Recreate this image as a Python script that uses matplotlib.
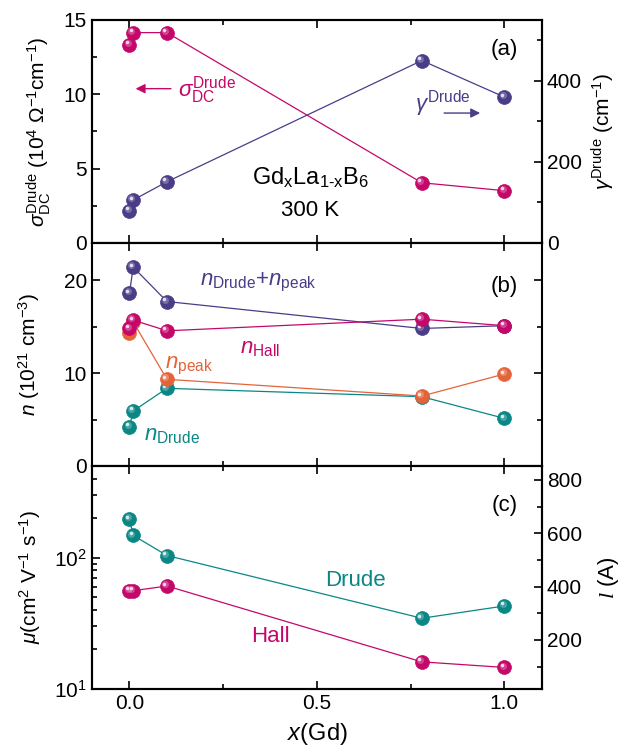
import numpy as np
import matplotlib
matplotlib.use('Agg')
import matplotlib.pyplot as plt
from matplotlib.transforms import offset_copy
from matplotlib.ticker import MultipleLocator, LogLocator, NullFormatter

plt.rcParams['font.family'] = ['Liberation Sans', 'DejaVu Sans']
plt.rcParams['mathtext.fontset'] = 'custom'
plt.rcParams['mathtext.rm'] = 'Liberation Sans'
plt.rcParams['mathtext.it'] = 'Liberation Sans:italic'
plt.rcParams['mathtext.sf'] = 'Liberation Sans'
plt.rcParams['mathtext.cal'] = 'Liberation Serif:italic'
plt.rcParams['axes.linewidth'] = 1.5

# x (Gd content)
x = [0.0, 0.01, 0.1, 0.78, 1.0]

# panel (a)
sigma_dc = [13.35, 14.15, 14.15, 4.05, 3.52]     # 10^4 Ohm^-1 cm^-1
gamma_drude = [80, 106, 151, 450, 360]            # cm^-1

# panel (b), 10^21 cm^-3
n_sum = [18.6, 21.4, 17.7, 14.8, 15.1]
n_hall = [14.8, 15.7, 14.55, 15.8, 15.1]
n_peak = [14.35, 15.5, 9.33, 7.53, 9.9]
n_drude = [4.23, 5.92, 8.36, 7.46, 5.13]

# panel (c), cm^2 V^-1 s^-1
mu_drude = [197, 148, 104, 34.6, 42.9]
mu_hall = [56.1, 56.1, 60.9, 16.1, 14.6]

magenta = '#C4086A'
purple = '#4B3C88'
teal = '#0A8785'
orange = '#E4643A'

fig, axes = plt.subplots(3, 1, sharex=True, figsize=(6.3, 7.54), dpi=100)
fig.subplots_adjust(left=0.146, right=0.860, top=0.9735, bottom=0.0862, hspace=0)
axa, axb, axc = axes


def balls(ax, xs, ys, color, z):
    # line + marker, then a soft highlight to get the "sphere" look
    ax.plot(xs, ys, '-', color=color, lw=0.9, zorder=z)
    ax.plot(xs, ys, 'o', ms=10, mfc=color, mec=color, mew=0.5, zorder=z + 0.1)
    tr = offset_copy(ax.transData, fig=fig, x=-1.3, y=1.3, units='points')
    ax.plot(xs, ys, 'o', ms=5, color='white', alpha=0.25, mew=0, transform=tr, zorder=z + 0.2)
    tr2 = offset_copy(ax.transData, fig=fig, x=-1.8, y=1.8, units='points')
    ax.plot(xs, ys, 'o', ms=2.5, color='white', alpha=0.8, mew=0, transform=tr2, zorder=z + 0.3)


def style(ax, right=True):
    ax.tick_params(which='both', direction='in', top=True, right=right, labelsize=15, width=1.2)
    ax.tick_params(which='major', length=6)
    ax.tick_params(which='minor', length=3.5)
    ax.xaxis.set_major_locator(MultipleLocator(0.5))
    ax.xaxis.set_minor_locator(MultipleLocator(0.25))


# ---------- (a)
axa2 = axa.twinx()
axa.set_xlim(-0.1, 1.1)
axa.set_ylim(0, 15)
axa2.set_ylim(0, 550)
axa.yaxis.set_major_locator(MultipleLocator(5))
axa.yaxis.set_minor_locator(MultipleLocator(2.5))
axa2.yaxis.set_major_locator(MultipleLocator(200))
axa2.yaxis.set_minor_locator(MultipleLocator(100))
style(axa, right=False)
axa2.tick_params(which='both', direction='in', labelsize=15, width=1.2)
axa2.tick_params(which='major', length=6)
axa2.tick_params(which='minor', length=3.5)
axa.tick_params(labelbottom=False)

balls(axa, x, sigma_dc, magenta, 3)
balls(axa2, x, gamma_drude, purple, 3)

axa.set_ylabel(r'$\sigma_{\rm DC}^{\rm Drude}$ (10$^4$ $\Omega^{-1}$cm$^{-1}$)', fontsize=15, labelpad=8)
axa2.set_ylabel(r'$\gamma^{\rm Drude}$ (cm$^{-1}$)', fontsize=15, labelpad=6)

axa.annotate('', xy=(0.009, 10.38), xytext=(0.118, 10.38),
             arrowprops=dict(arrowstyle='-|>', color=magenta, lw=1, mutation_scale=14))
axa.text(0.13, 10.25, r'$\sigma_{\rm DC}^{\rm Drude}$', color=magenta, fontsize=16, ha='left', va='center')
axa.text(0.762, 9.35, r'$\gamma^{\rm Drude}$', color=purple, fontsize=16, ha='left', va='center')
axa.annotate('', xy=(0.943, 8.74), xytext=(0.832, 8.74),
             arrowprops=dict(arrowstyle='-|>', color=purple, lw=1, mutation_scale=14))
axa.text(0.482, 4.37, r'Gd$_{\rm x}$La$_{\rm 1\text{-}x}$B$_6$', fontsize=17, ha='center', va='center')
axa.text(0.482, 2.2, '300 K', fontsize=16, ha='center', va='center')
axa.text(1.0, 13.0, '(a)', fontsize=16, ha='center', va='center')

# ---------- (b)
axb.set_ylim(0, 24)
axb.yaxis.set_major_locator(MultipleLocator(10))
axb.yaxis.set_minor_locator(MultipleLocator(5))
style(axb)
axb.tick_params(labelbottom=False)

balls(axb, x, n_drude, teal, 2)
balls(axb, x, n_sum, purple, 3)
balls(axb, x, n_peak, orange, 4)
balls(axb, x, n_hall, magenta, 5)

axb.set_ylabel(r'$n$ (10$^{21}$ cm$^{-3}$)', fontsize=15, labelpad=16)
axb.text(0.188, 19.7, r'$n_{\rm Drude}$+$n_{\rm peak}$', color=purple, fontsize=16, ha='left', va='center')
axb.text(0.295, 12.6, r'$n_{\rm Hall}$', color=magenta, fontsize=16, ha='left', va='center')
axb.text(0.095, 10.8, r'$n_{\rm peak}$', color=orange, fontsize=16, ha='left', va='center')
axb.text(0.038, 3.3, r'$n_{\rm Drude}$', color=teal, fontsize=16, ha='left', va='center')
axb.text(1.0, 19.3, '(b)', fontsize=16, ha='center', va='center')

# ---------- (c)
axc2 = axc.twinx()
axc.set_yscale('log')
axc.set_ylim(10, 500)
axc.yaxis.set_major_locator(LogLocator(base=10))
axc.yaxis.set_minor_locator(LogLocator(base=10, subs=np.arange(2, 10)))
axc.yaxis.set_minor_formatter(NullFormatter())
axc2.set_ylim(16, 852)
axc2.yaxis.set_major_locator(MultipleLocator(200))
axc2.yaxis.set_minor_locator(MultipleLocator(100))
style(axc, right=False)
axc2.tick_params(which='both', direction='in', labelsize=15, width=1.2)
axc2.tick_params(which='major', length=6)
axc2.tick_params(which='minor', length=3.5)
axc.xaxis.set_major_formatter(plt.FuncFormatter(lambda v, p: f'{v:.1f}'))

balls(axc, x, mu_drude, teal, 3)
balls(axc, x, mu_hall, magenta, 3)

axc.set_ylabel(r'$\mu$(cm$^2$ V$^{-1}$ s$^{-1}$)', fontsize=15, labelpad=8)
axc2.set_ylabel(r'$\mathcal{l}$ (A)', fontsize=16, labelpad=10)
axc.set_xlabel(r'$x$(Gd)', fontsize=17, labelpad=6)
axc.text(0.602, 66.6, 'Drude', color=teal, fontsize=16, ha='center', va='center')
axc.text(0.377, 25.0, 'Hall', color=magenta, fontsize=16, ha='center', va='center')
axc.text(1.0, 252, '(c)', fontsize=16, ha='center', va='center')

fig.savefig('out.png', dpi=100)
